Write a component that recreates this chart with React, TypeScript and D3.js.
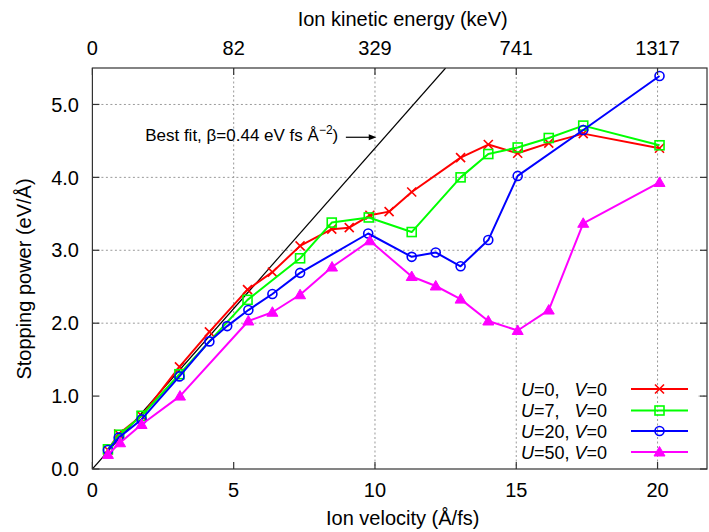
import React from "react";
import * as d3 from "d3";

// ---- data ----
const uZeroVel = [0.55, 0.93, 1.74, 3.08, 4.14, 5.49, 6.37, 7.35, 8.47, 9.09, 9.82, 10.5, 11.3, 13.03, 14.01, 15.05, 16.15, 17.37, 20.07];
const uZeroStop = [0.26, 0.48, 0.73, 1.40, 1.88, 2.46, 2.70, 3.06, 3.29, 3.31, 3.48, 3.53, 3.80, 4.27, 4.45, 4.33, 4.47, 4.60, 4.40];

const uSevenVel = [0.55, 0.95, 1.74, 3.08, 5.49, 7.35, 8.47, 9.78, 11.3, 13.03, 14.01, 15.05, 16.15, 17.37, 20.07];
const uSevenStop = [0.27, 0.47, 0.73, 1.30, 2.32, 2.89, 3.38, 3.45, 3.25, 4.00, 4.32, 4.41, 4.54, 4.71, 4.44];

const uTwentyVel = [0.55, 0.93, 1.74, 3.08, 4.14, 4.77, 5.52, 6.37, 7.35, 9.76, 11.3, 12.15, 13.03, 14.01, 15.05, 17.37, 20.07];
const uTwentyStop = [0.26, 0.43, 0.68, 1.27, 1.75, 1.96, 2.18, 2.40, 2.69, 3.23, 2.91, 2.97, 2.78, 3.14, 4.02, 4.65, 5.39];

const uFiftyVel = [0.55, 0.98, 1.74, 3.1, 5.52, 6.37, 7.35, 8.48, 9.82, 11.3, 12.15, 13.03, 14.01, 15.05, 16.15, 17.37, 20.07];
const uFiftyStop = [0.20, 0.36, 0.61, 1.00, 2.03, 2.15, 2.39, 2.77, 3.13, 2.64, 2.51, 2.33, 2.03, 1.90, 2.18, 3.37, 3.93];

const seriesU = ["0", "7", "20", "50"];
const seriesColors = ["#ff0000", "#00ff00", "#0000ff", "#ff00ff"];
const seriesMarkers = ["cross", "square", "circle", "triangle"];

const xTicks = [0, 5, 10, 15, 20];
const yTicks = [0, 1, 2, 3, 4, 5];
const topTickVel = [0, 5, 10, 15, 20];
const topTickLabels = ["0", "82", "329", "741", "1317"];

const fitBeta = 0.44;

// ---- layout ----
const W = 709, H = 532;
const L = 92.4, R = 707, T = 68, B = 469;
const FONT = "'Liberation Sans', Arial, Helvetica, sans-serif";

const x = d3.scaleLinear().domain([0, 21.75]).range([L, R]);
const y = d3.scaleLinear().domain([0, 5.5]).range([B, T]);

function Marker({ kind, cx, cy, color }: { kind: string; cx: number; cy: number; color: string }) {
  if (kind === "cross") {
    const s = 4.5;
    return (
      <g stroke={color} strokeWidth={1.6}>
        <line x1={cx - s} y1={cy - s} x2={cx + s} y2={cy + s} />
        <line x1={cx - s} y1={cy + s} x2={cx + s} y2={cy - s} />
      </g>
    );
  }
  if (kind === "square") {
    const s = 4.5;
    return <rect x={cx - s} y={cy - s} width={2 * s} height={2 * s} fill="none" stroke={color} strokeWidth={1.6} />;
  }
  if (kind === "circle") {
    return <circle cx={cx} cy={cy} r={4.5} fill="none" stroke={color} strokeWidth={1.6} />;
  }
  const s = 5.5;
  return <polygon points={`${cx},${cy - s} ${cx + s},${cy + 4} ${cx - s},${cy + 4}`} fill={color} stroke={color} strokeWidth={1} />;
}

export default function App() {
  const series = [
    { v: uZeroVel, s: uZeroStop },
    { v: uSevenVel, s: uSevenStop },
    { v: uTwentyVel, s: uTwentyStop },
    { v: uFiftyVel, s: uFiftyStop },
  ];
  const line = d3
    .line<[number, number]>()
    .x((d) => x(d[0]))
    .y((d) => y(d[1]));

  const gridColor = "#9a9a9a";
  const gridDash = "2,2.5";

  const fitEndV = 5.5 / fitBeta;

  const legendRows = [389, 410.5, 431, 452];

  return (
    <svg
      width={W}
      height={H}
      style={{ position: "absolute", left: 0, top: 0, background: "#fff" }}
      fontFamily={FONT}
    >
      <rect x={0} y={0} width={W} height={H} fill="#fff" />
      <defs>
        <clipPath id="plotclip">
          <rect x={L} y={T} width={R - L} height={B - T} />
        </clipPath>
      </defs>

      {/* grid */}
      <g stroke={gridColor} strokeWidth={1} strokeDasharray={gridDash} fill="none">
        {[2, 3, 4, 5].map((t) => (
          <line key={"gy" + t} x1={L} x2={R} y1={y(t)} y2={y(t)} />
        ))}
        <line x1={x(21.45)} x2={R} y1={y(1)} y2={y(1)} />
        {[10, 15, 20].map((t) => (
          <line key={"gx" + t} x1={x(t)} x2={x(t)} y1={T} y2={B} />
        ))}
        <line x1={x(5)} x2={x(5)} y1={T} y2={y(2)} />
      </g>

      {/* best fit */}
      <g clipPath="url(#plotclip)">
        <line x1={x(0)} y1={y(0)} x2={x(fitEndV)} y2={y(fitBeta * fitEndV)} stroke="#000" strokeWidth={1.2} />
      </g>

      {/* series */}
      {series.map((sr, i) => {
        const pts: [number, number][] = sr.v.map((v, k) => [v, sr.s[k]]);
        return (
          <g key={"s" + i}>
            <path d={line(pts) || ""} fill="none" stroke={seriesColors[i]} strokeWidth={2} strokeLinejoin="round" />
            {pts.map((p, k) => (
              <Marker key={k} kind={seriesMarkers[i]} cx={x(p[0])} cy={y(p[1])} color={seriesColors[i]} />
            ))}
          </g>
        );
      })}

      {/* annotation */}
      <text x={x(8.7)} y={y(4.5)} fontSize={17} textAnchor="end" fill="#000">
        Best fit, β=0.44 eV fs Å
        <tspan dy={-7} fontSize={12}>−2</tspan>
        <tspan dy={7}>)</tspan>
      </text>
      <line x1={x(8.97)} x2={x(9.9)} y1={y(4.55)} y2={y(4.55)} stroke="#000" strokeWidth={1.2} />
      <polygon
        points={`${x(10.05)},${y(4.55)} ${x(9.78)},${y(4.55) - 3} ${x(9.78)},${y(4.55) + 3}`}
        fill="#000"
      />

      {/* legend */}
      {seriesU.map((u, i) => {
        const ry = legendRows[i];
        return (
          <g key={"lg" + i}>
            <text x={521} y={ry + 6.5} fontSize={18} fill="#000">
              <tspan fontStyle="italic">U</tspan>={u},
            </text>
            <text x={607} y={ry + 6.5} fontSize={18} fill="#000" textAnchor="end">
              <tspan fontStyle="italic">V</tspan>=0
            </text>
            <line x1={631} x2={688} y1={ry} y2={ry} stroke={seriesColors[i]} strokeWidth={2} />
            <Marker kind={seriesMarkers[i]} cx={659.5} cy={ry} color={seriesColors[i]} />
          </g>
        );
      })}

      {/* frame */}
      <rect x={L} y={T} width={R - L} height={B - T} fill="none" stroke="#333" strokeWidth={1.2} />

      {/* ticks */}
      <g stroke="#333" strokeWidth={1.2}>
        {yTicks.map((t) => (
          <g key={"yt" + t}>
            <line x1={L} x2={L + 7} y1={y(t)} y2={y(t)} />
            <line x1={R} x2={R - 7} y1={y(t)} y2={y(t)} />
          </g>
        ))}
        {xTicks.map((t) => (
          <line key={"xt" + t} x1={x(t)} x2={x(t)} y1={B} y2={B - 7} />
        ))}
        {topTickVel.map((t) => (
          <line key={"tt" + t} x1={x(t)} x2={x(t)} y1={T} y2={T + 7} />
        ))}
      </g>

      {/* tick labels */}
      <g fontSize={20} fill="#000">
        {yTicks.map((t) => (
          <text key={"yl" + t} x={79} y={y(t)} dy="0.36em" textAnchor="end">
            {d3.format(".1f")(t)}
          </text>
        ))}
        {xTicks.map((t) => (
          <text key={"xl" + t} x={x(t)} y={497} textAnchor="middle">
            {t}
          </text>
        ))}
        {topTickVel.map((t, i) => (
          <text key={"tl" + t} x={x(t)} y={55} textAnchor="middle">
            {topTickLabels[i]}
          </text>
        ))}
      </g>

      {/* axis titles */}
      <text x={(L + R) / 2 + 3} y={525} fontSize={20} textAnchor="middle" fill="#000">
        Ion velocity (Å/fs)
      </text>
      <text x={(L + R) / 2 + 3} y={26} fontSize={20} textAnchor="middle" fill="#000">
        Ion kinetic energy (keV)
      </text>
      <text
        transform={`translate(31, ${279}) rotate(-90)`}
        fontSize={20}
        textAnchor="middle"
        fill="#000"
      >
        Stopping power (eV/Å)
      </text>
    </svg>
  );
}
